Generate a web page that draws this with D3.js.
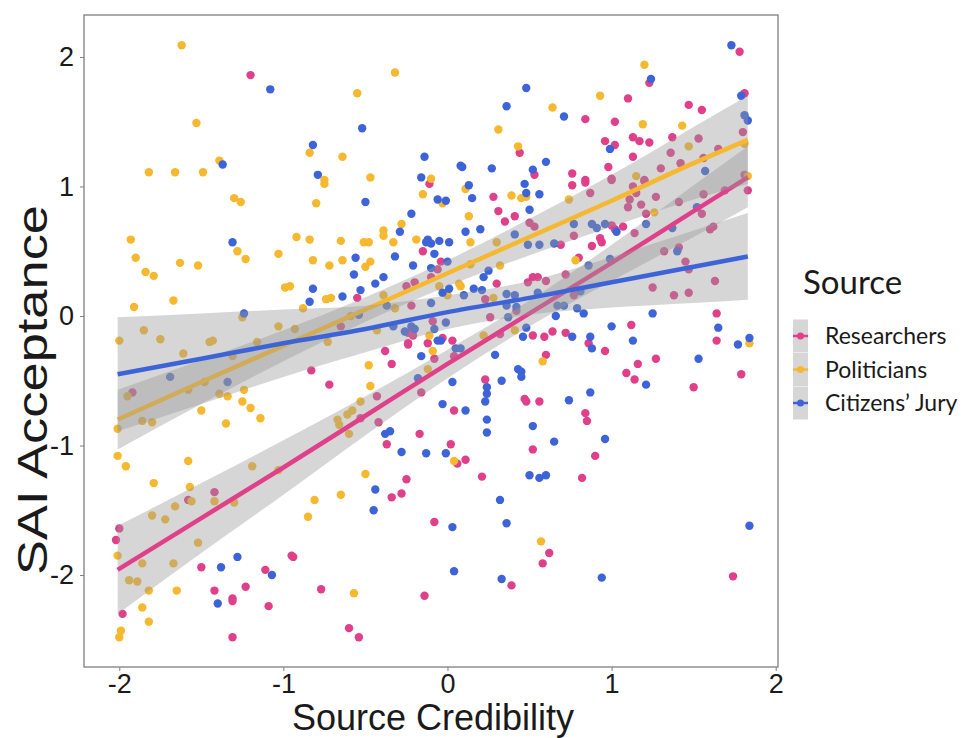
<!DOCTYPE html>
<html><head><meta charset="utf-8">
<script src="https://cdn.jsdelivr.net/npm/d3@7"></script>
<style>html,body{margin:0;padding:0;background:#fff;}svg{display:block;}</style>
</head><body>
<svg id="chart" width="966" height="738"></svg>
<script>
const seriesNames = ["Researchers", "Politicians", "Citizens\u2019 Jury"];
const seriesColors = ["#e0408a", "#f5b82e", "#3c64d8"];
const xTicks = [-2, -1, 0, 1, 2];
const yTicks = [-2, -1, 0, 1, 2];

const researchers = [[-1.20,1.86],[0.44,1.26],[0.53,1.09],[1.78,2.04],[1.23,1.80],[1.10,1.68],[1.81,1.72],[1.47,1.63],[1.55,1.59],[0.84,1.52],[1.02,1.50],[1.80,1.42],[1.37,1.38],[1.53,1.37],[1.13,1.38],[1.17,1.35],[1.23,1.34],[0.96,1.35],[1.02,1.32],[1.36,1.26],[1.65,1.29],[1.13,1.23],[1.56,1.22],[1.42,1.18],[0.98,1.15],[1.30,1.14],[0.76,1.10],[1.00,1.06],[1.20,1.05],[0.84,1.05],[1.81,1.09],[-0.11,1.02],[0.28,0.92],[0.31,0.81],[0.35,0.73],[0.41,0.77],[0.50,0.72],[0.53,0.69],[-0.15,0.50],[-0.04,0.42],[-0.06,0.36],[-0.10,0.30],[-0.25,0.23],[-0.20,0.26],[0.30,0.25],[0.23,0.13],[0.49,0.26],[0.52,0.30],[0.55,0.30],[0.60,0.27],[-0.55,0.14],[-0.22,0.08],[0.42,0.04],[0.26,-0.01],[-0.65,-0.08],[-0.09,-0.04],[-0.24,-0.13],[-0.21,-0.15],[-0.03,-0.17],[0.03,-0.19],[-0.12,-0.21],[-0.24,-0.21],[0.52,-0.15],[0.59,-0.16],[0.32,-0.14],[0.76,1.01],[0.84,1.03],[0.87,0.95],[1.00,1.05],[1.13,1.00],[1.15,0.95],[1.20,1.04],[1.11,0.90],[1.10,0.84],[1.18,0.86],[1.27,0.92],[1.21,0.79],[1.41,0.88],[1.56,0.94],[1.69,0.97],[1.83,0.97],[1.55,0.79],[0.77,0.62],[1.00,0.70],[1.02,0.67],[1.07,0.69],[1.14,0.64],[0.93,0.60],[0.94,0.57],[0.88,0.54],[0.69,0.55],[1.60,0.67],[1.62,0.69],[1.32,0.50],[1.41,0.53],[0.80,0.45],[1.45,0.42],[1.47,0.36],[0.72,0.32],[1.25,0.22],[1.38,0.16],[1.47,0.18],[1.63,0.27],[0.77,0.16],[1.64,0.02],[1.12,-0.07],[0.64,-0.12],[0.72,-0.13],[0.86,-0.21],[1.64,-0.19],[-1.92,-0.59],[-0.83,-0.42],[-1.42,-1.36],[-1.58,-1.42],[-0.38,-0.27],[-0.24,-0.22],[-0.08,-0.33],[0.04,-0.31],[0.60,-0.30],[-0.34,-0.37],[0.23,-0.49],[-0.72,-0.53],[-0.43,-0.62],[-0.16,-0.59],[-0.42,-0.82],[-0.53,-0.79],[0.04,-0.73],[0.47,-0.64],[0.48,-0.66],[0.56,-0.66],[-0.17,-0.91],[-0.37,-0.99],[0.02,-0.99],[0.52,-1.03],[0.06,-1.14],[0.11,-1.11],[0.21,-1.24],[-0.25,-1.26],[-0.34,-1.40],[-0.28,-1.37],[0.96,-0.27],[1.16,-0.37],[1.27,-0.33],[1.09,-0.44],[1.14,-0.49],[1.79,-0.45],[1.50,-0.55],[0.84,-0.75],[0.85,-0.81],[0.90,-1.08],[0.82,-1.25],[-2.00,-1.64],[-2.02,-1.73],[-1.50,-1.94],[-1.42,-2.12],[-1.31,-2.18],[-1.31,-2.20],[-1.23,-2.09],[-1.11,-1.96],[-1.09,-2.24],[-0.95,-1.85],[-0.94,-1.86],[-1.98,-2.30],[-1.31,-2.48],[-0.08,-1.59],[0.62,-1.83],[0.58,-1.91],[0.39,-2.08],[-0.77,-2.11],[-0.14,-2.16],[-0.60,-2.41],[-0.54,-2.48],[1.74,-2.01]];

const politicians = [[-1.62,2.09],[-1.53,1.49],[-0.84,1.26],[-1.39,1.20],[-1.82,1.11],[-1.66,1.11],[-1.49,1.11],[-0.32,1.88],[-0.55,1.72],[0.31,1.44],[0.43,1.31],[-0.64,1.23],[-0.47,1.07],[-0.10,1.06],[-0.75,1.05],[1.20,1.94],[0.93,1.70],[0.64,1.61],[1.19,1.48],[1.43,1.47],[1.47,1.31],[1.81,1.33],[1.15,1.08],[1.83,1.08],[-1.30,0.91],[-1.26,0.88],[-0.80,0.87],[-1.93,0.59],[-1.28,0.50],[-1.23,0.44],[-1.90,0.45],[-1.84,0.34],[-1.79,0.31],[-1.63,0.41],[-1.52,0.39],[-1.03,0.48],[-0.92,0.61],[-0.84,0.59],[-0.82,0.43],[-0.99,0.22],[-0.96,0.23],[-1.91,0.07],[-1.67,0.12],[-1.25,-0.01],[-0.88,0.06],[-1.03,-0.08],[-1.85,-0.11],[-1.75,-0.18],[-2.00,-0.19],[-1.45,-0.20],[-1.43,-0.19],[-1.16,-0.20],[-0.93,-0.10],[-0.75,1.02],[-0.15,0.94],[-0.03,0.87],[0.11,0.98],[0.39,0.93],[0.45,0.91],[0.48,0.92],[0.13,0.77],[-0.28,0.71],[-0.39,0.66],[-0.39,0.62],[-0.65,0.58],[-0.51,0.57],[-0.48,0.57],[-0.33,0.57],[-0.19,0.59],[0.14,0.57],[0.30,0.57],[-0.64,0.43],[-0.47,0.42],[-0.72,0.39],[-0.50,0.38],[0.14,0.40],[0.32,0.39],[-0.05,0.23],[0.07,0.25],[0.08,0.23],[0.00,0.16],[0.28,0.14],[-0.74,0.13],[-0.71,0.14],[-0.39,0.16],[-0.32,0.06],[-0.59,0.00],[-0.43,-0.11],[-0.11,-0.15],[-0.73,-0.20],[0.41,-0.11],[0.22,-0.15],[0.74,0.90],[1.26,0.80],[0.78,0.43],[1.84,-0.21],[-1.61,-0.29],[-1.31,-0.31],[-1.48,-0.51],[-1.58,-0.57],[-1.95,-0.62],[-1.39,-0.60],[-1.24,-0.57],[-1.34,-0.62],[-1.25,-0.66],[-1.20,-0.71],[-1.50,-0.73],[-1.14,-0.79],[-1.86,-0.81],[-1.80,-0.82],[-1.35,-0.83],[-2.01,-0.87],[-2.01,-1.08],[-1.96,-1.16],[-1.58,-1.12],[-1.19,-1.16],[-1.03,-1.19],[-1.79,-1.29],[-1.57,-1.32],[-1.56,-1.43],[-1.42,-1.43],[-1.30,-1.44],[-1.66,-1.47],[-0.81,-1.42],[-0.09,-0.27],[0.58,-0.35],[-0.48,-0.38],[-0.12,-0.41],[-0.47,-0.54],[-0.53,-0.66],[-0.61,-0.76],[-0.58,-0.73],[-0.67,-0.80],[-0.66,-0.84],[-0.60,-0.91],[0.04,-1.12],[-0.50,-1.22],[-0.65,-1.38],[-1.80,-1.54],[-1.72,-1.57],[-2.01,-1.85],[-1.52,-1.75],[-1.86,-1.91],[-1.67,-1.91],[-1.94,-2.04],[-1.89,-2.05],[-1.82,-2.12],[-1.65,-2.12],[-0.85,-1.55],[-1.86,-2.25],[-1.82,-2.36],[-1.99,-2.43],[-2.00,-2.48],[0.57,-1.74],[-0.57,-2.14]];

const citizensJury = [[-1.08,1.75],[-0.82,1.32],[-1.37,1.17],[-0.79,1.09],[0.48,1.76],[0.36,1.62],[-0.52,1.45],[-0.14,1.23],[0.08,1.16],[0.09,1.15],[0.27,1.14],[0.60,1.19],[0.52,1.13],[-0.16,1.07],[1.73,2.09],[1.24,1.83],[1.79,1.70],[0.71,1.54],[1.81,1.55],[1.83,1.51],[0.99,1.29],[1.57,1.12],[-1.31,0.57],[-0.82,0.21],[-0.84,0.11],[-1.24,0.02],[0.13,1.01],[0.47,1.02],[-0.50,0.88],[-0.06,0.90],[-0.01,0.89],[0.15,0.91],[0.48,0.95],[0.56,0.94],[-0.22,0.79],[0.50,0.82],[-0.29,0.65],[0.11,0.65],[0.20,0.67],[-0.12,0.59],[-0.10,0.56],[-0.13,0.57],[-0.05,0.58],[0.01,0.57],[0.41,0.63],[0.49,0.55],[0.56,0.55],[-0.08,0.48],[-0.56,0.45],[-0.32,0.46],[0.00,0.42],[-0.21,0.39],[-0.10,0.37],[0.25,0.35],[-0.57,0.32],[-0.39,0.30],[0.22,0.30],[-0.53,0.20],[-0.44,0.25],[-0.03,0.18],[0.01,0.21],[0.16,0.21],[0.10,0.16],[0.21,0.20],[0.36,0.17],[0.41,0.16],[0.55,0.18],[-0.64,0.15],[-0.37,0.08],[-0.10,0.10],[0.36,0.08],[0.42,0.07],[0.37,-0.01],[-0.54,0.01],[-0.33,-0.08],[-0.22,-0.08],[-0.20,-0.10],[-0.01,-0.05],[-0.26,-0.12],[-0.08,-0.10],[-0.06,-0.19],[-0.04,-0.19],[0.48,-0.09],[0.46,-0.16],[0.77,0.71],[0.88,0.71],[0.91,0.68],[0.96,0.71],[1.03,0.65],[1.21,0.71],[0.65,0.56],[1.37,0.68],[1.52,0.84],[1.40,0.50],[0.99,0.44],[0.86,0.39],[0.81,0.19],[0.67,0.08],[0.71,0.08],[0.79,0.06],[0.66,0.00],[0.83,0.02],[1.25,0.02],[1.00,-0.08],[1.65,-0.09],[0.76,-0.16],[0.87,-0.16],[1.13,-0.19],[1.84,-0.17],[1.77,-0.22],[-1.69,-0.47],[-1.34,-0.51],[-0.16,-0.31],[0.05,-0.25],[0.08,-0.25],[0.29,-0.30],[-0.18,-0.48],[0.03,-0.51],[0.33,-0.50],[0.43,-0.41],[0.45,-0.43],[0.45,-0.47],[0.24,-0.55],[0.24,-0.60],[0.23,-0.66],[-0.03,-0.68],[0.11,-0.73],[0.24,-0.80],[0.24,-0.90],[0.52,-0.85],[-0.38,-0.91],[-0.35,-0.89],[-0.28,-1.05],[-0.13,-1.06],[-0.01,-1.06],[0.50,-1.23],[0.56,-1.25],[0.60,-1.23],[-0.44,-1.34],[0.32,-1.42],[-0.45,-1.50],[0.88,-0.25],[1.21,-0.53],[1.53,-0.33],[0.74,-0.65],[0.87,-0.59],[0.65,-0.97],[0.96,-0.95],[-1.38,-1.94],[-1.28,-1.86],[-1.40,-2.22],[-1.07,-2.00],[0.03,-1.63],[0.36,-1.60],[0.04,-1.97],[0.33,-2.03],[1.84,-1.62],[0.94,-2.02]];

// fitted lm lines and 95% bands read at these x positions
const fitX = [-2.01, -1.5, -1, -0.5, 0, 0.5, 1, 1.5, 1.83];
const fitResearchers = [-1.96, -1.56, -1.17, -0.77, -0.37, 0.02, 0.41, 0.81, 1.07];
const loResearchers  = [-2.30, -1.83, -1.38, -0.92, -0.48, -0.08, 0.27, 0.61, 0.84];
const hiResearchers  = [-1.62, -1.29, -0.96, -0.62, -0.26, 0.12, 0.55, 1.01, 1.31];
const fitPoliticians = [-0.80, -0.51, -0.23, 0.05, 0.33, 0.61, 0.89, 1.18, 1.36];
const loPoliticians  = [-1.03, -0.68, -0.35, -0.045, 0.23, 0.47, 0.69, 0.90, 1.02];
const hiPoliticians  = [-0.57, -0.34, -0.11, 0.145, 0.43, 0.75, 1.09, 1.46, 1.70];
const fitJury = [-0.45, -0.33, -0.21, -0.10, 0.03, 0.14, 0.26, 0.38, 0.46];
const loJury  = [-0.89, -0.68, -0.47, -0.28, -0.10, 0.01, 0.065, 0.10, 0.125];
const hiJury  = [-0.01, 0.02, 0.05, 0.08, 0.16, 0.27, 0.455, 0.66, 0.795];

const points = [researchers, politicians, citizensJury];
const fits = [fitResearchers, fitPoliticians, fitJury];
const los = [loResearchers, loPoliticians, loJury];
const his = [hiResearchers, hiPoliticians, hiJury];

const svg = d3.select("#chart");
const pLeft = 84, pRight = 778, pTop = 15, pBottom = 667;
const x = d3.scaleLinear().domain([-2.215, 2.014]).range([pLeft, pRight]);
const y = d3.scaleLinear().domain([-2.71, 2.324]).range([pBottom, pTop]);

const plot = svg.append("g");
// points
points.forEach((pts, i) => {
  plot.append("g").selectAll("circle").data(pts).join("circle")
    .attr("cx", d => x(d[0])).attr("cy", d => y(d[1])).attr("r", 4.2)
    .attr("fill", seriesColors[i]);
});
// smooths
const area = d3.area().x(d => x(d.x)).y0(d => y(d.lo)).y1(d => y(d.hi)).curve(d3.curveMonotoneX);
const line = d3.line().x(d => x(d.x)).y(d => y(d.f)).curve(d3.curveMonotoneX);
[0, 1, 2].forEach(i => {
  const rows = fitX.map((xv, k) => ({x: xv, f: fits[i][k], lo: los[i][k], hi: his[i][k]}));
  plot.append("path").datum(rows).attr("d", area).attr("fill", "#999999").attr("fill-opacity", 0.4);
  plot.append("path").datum(rows).attr("d", line).attr("fill", "none")
    .attr("stroke", seriesColors[i]).attr("stroke-width", 4.5);
});

// panel border
svg.append("rect").attr("x", pLeft).attr("y", pTop).attr("width", pRight - pLeft).attr("height", pBottom - pTop)
  .attr("fill", "none").attr("stroke", "#7f7f7f").attr("stroke-width", 1.3);

// axes
const xAxis = d3.axisBottom(x).tickValues(xTicks).tickSize(4).tickFormat(d3.format("d"));
const gx = svg.append("g").attr("transform", `translate(0,${pBottom})`).call(xAxis);
gx.select(".domain").remove();
gx.selectAll("line").attr("stroke", "#7f7f7f");
gx.selectAll("text").attr("font-family", "Liberation Sans, Arial, sans-serif").attr("font-size", 27)
  .attr("fill", "#1a1a1a").attr("y", 4).attr("dy", "0.8em").text(d => d < 0 ? "-" + Math.abs(d) : d);

const yAxis = d3.axisLeft(y).tickValues(yTicks).tickSize(4).tickFormat(d3.format("d"));
const gy = svg.append("g").attr("transform", `translate(${pLeft},0)`).call(yAxis);
gy.select(".domain").remove();
gy.selectAll("line").attr("stroke", "#7f7f7f");
gy.selectAll("text").attr("font-family", "Liberation Sans, Arial, sans-serif").attr("font-size", 27)
  .attr("fill", "#1a1a1a").attr("x", -10).text(d => d < 0 ? "-" + Math.abs(d) : d);

// titles
svg.append("text").attr("x", 433).attr("y", 730).attr("text-anchor", "middle")
  .attr("font-family", "Liberation Sans, Arial, sans-serif").attr("font-size", 36).attr("fill", "#1a1a1a")
  .text("Source Credibility");
svg.append("text").attr("transform", "translate(47,390) rotate(-90)").attr("text-anchor", "middle")
  .attr("font-family", "Liberation Sans, Arial, sans-serif").attr("font-size", 42).attr("fill", "#1a1a1a")
  .attr("textLength", 370).attr("lengthAdjust", "spacingAndGlyphs")
  .text("SAI Acceptance");

// legend
const lg = svg.append("g");
lg.append("text").attr("x", 803).attr("y", 294).attr("font-family", "Lato, sans-serif").attr("font-size", 33)
  .attr("fill", "#1a1a1a").text("Source");
seriesNames.forEach((nm, i) => {
  const cy = 336 + i * 33.5;
  lg.append("rect").attr("x", 793).attr("y", cy - 16.5).attr("width", 15).attr("height", 33)
    .attr("fill", "#d6d6d6");
  lg.append("line").attr("x1", 793).attr("x2", 808).attr("y1", cy).attr("y2", cy)
    .attr("stroke", seriesColors[i]).attr("stroke-width", 2.5);
  lg.append("circle").attr("cx", 800.5).attr("cy", cy).attr("r", 3.5).attr("fill", seriesColors[i]);
  lg.append("text").attr("x", 825).attr("y", cy + 8).attr("font-family", "Lato, sans-serif")
    .attr("font-size", 23).attr("fill", "#1a1a1a").text(nm);
});
</script>
</body></html>
